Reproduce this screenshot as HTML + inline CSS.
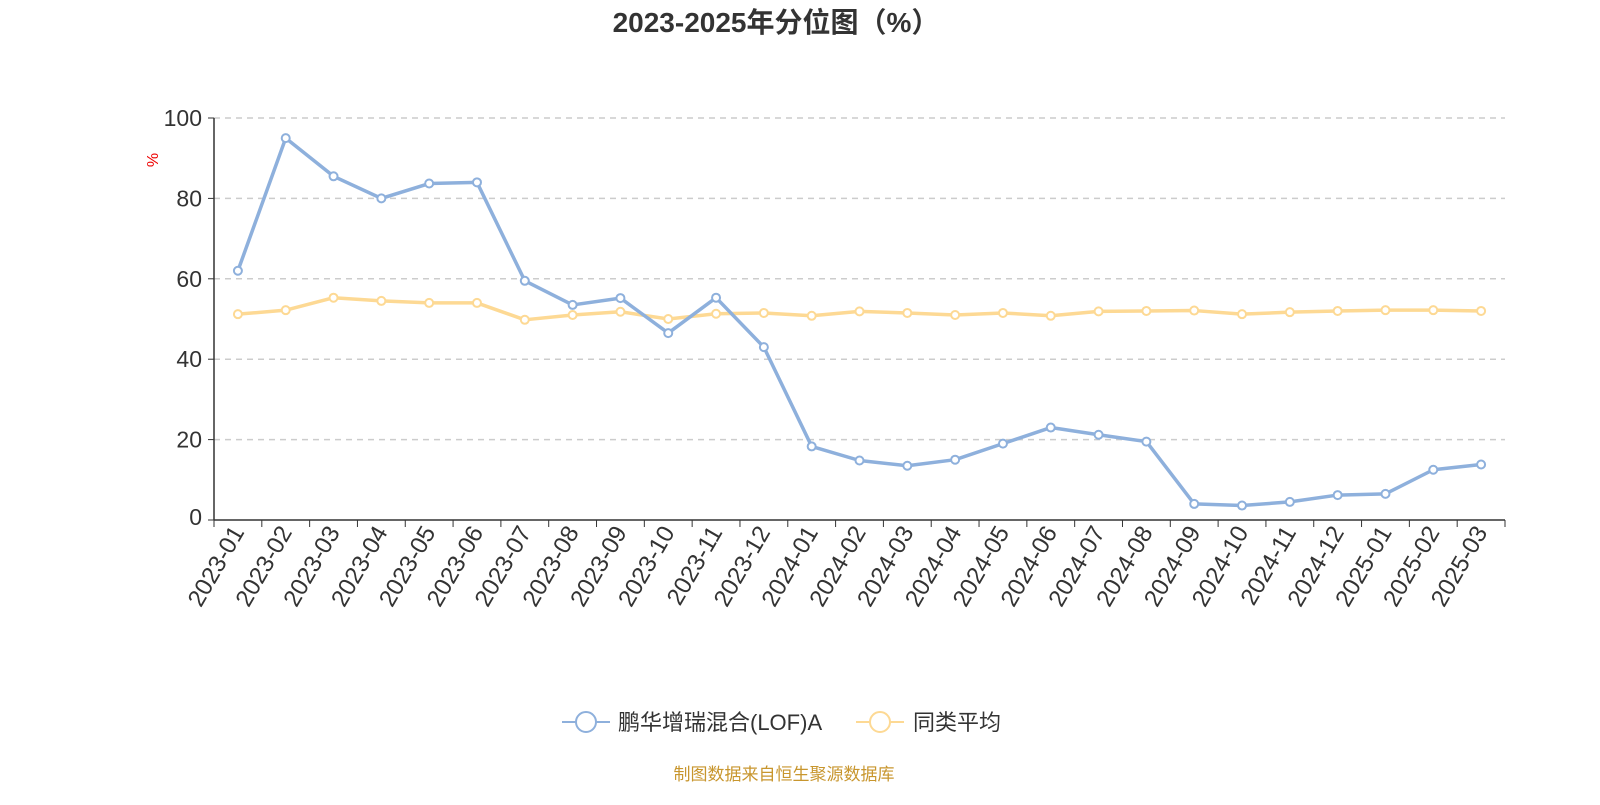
<!DOCTYPE html>
<html><head><meta charset="utf-8"><style>
body{margin:0;background:#fff;width:1600px;height:800px;overflow:hidden;font-family:"Liberation Sans","Noto Sans CJK SC",sans-serif}
</style></head><body>
<svg id="chart" width="1600" height="800" xmlns="http://www.w3.org/2000/svg" font-family="Liberation Sans, Noto Sans CJK SC, sans-serif">
<text x="776" y="32" text-anchor="middle" font-size="28" font-weight="bold" fill="#333">2023-2025年分位图（%）</text>
<text x="158" y="160" font-size="16" fill="#e00" transform="rotate(-90 158 160)" text-anchor="middle">%</text>
<g id="grid"></g><g id="axes"></g><g id="series"></g>
<g>
<line x1="562" y1="722" x2="610" y2="722" stroke="#8eb0dc" stroke-width="2"/>
<circle cx="586" cy="722" r="10" fill="#fff" stroke="#8eb0dc" stroke-width="2"/>
<text x="618" y="730" font-size="22" fill="#333">鹏华增瑞混合(LOF)A</text>
<line x1="856" y1="722" x2="904" y2="722" stroke="#fdd994" stroke-width="2"/>
<circle cx="880" cy="722" r="10" fill="#fff" stroke="#fdd994" stroke-width="2"/>
<text x="913" y="730" font-size="22" fill="#333">同类平均</text>
</g>
<text x="784" y="780" text-anchor="middle" font-size="17" fill="#c8962e">制图数据来自恒生聚源数据库</text>
</svg>
<script>
const categories=["2023-01","2023-02","2023-03","2023-04","2023-05","2023-06","2023-07","2023-08","2023-09","2023-10","2023-11","2023-12","2024-01","2024-02","2024-03","2024-04","2024-05","2024-06","2024-07","2024-08","2024-09","2024-10","2024-11","2024-12","2025-01","2025-02","2025-03"];
const fundValues=[62,95,85.5,80,83.7,84,59.5,53.5,55.2,46.5,55.3,43,18.3,14.8,13.5,15,19,23,21.2,19.5,4,3.6,4.5,6.2,6.5,12.5,13.8];
const avgValues=[51.2,52.2,55.3,54.5,54,54,49.8,51,51.8,50,51.3,51.5,50.8,51.9,51.5,51,51.5,50.8,51.9,52,52.1,51.2,51.7,52,52.2,52.2,52];
const yTicks=[0,20,40,60,80,100];
const NS="http://www.w3.org/2000/svg";
const X0=214,X1=1505,Y0=520,Y1=118;
const bw=(X1-X0)/categories.length;
const xs=i=>X0+bw*(i+0.5);
const ys=v=>Y0-(v/100)*(Y0-Y1);
function mk(tag,attrs,parent){const e=document.createElementNS(NS,tag);for(const k in attrs)e.setAttribute(k,attrs[k]);parent.appendChild(e);return e;}
const grid=document.getElementById('grid'),axes=document.getElementById('axes'),series=document.getElementById('series');
yTicks.forEach(t=>{
 if(t>0){const l=mk('line',{x1:X0,x2:X1,y1:ys(t),y2:ys(t),stroke:'#ccc','stroke-dasharray':'6,5','stroke-width':1.5},grid);
 
 }
 const tx=mk('text',{x:X0-12,y:ys(t)+8-(t==0?3:0),'text-anchor':'end','font-size':23,fill:'#333'},axes);tx.textContent=t;
 
 
 mk('line',{x1:X0-6,x2:X0,y1:ys(t),y2:ys(t),stroke:'#333'},axes);
});
const ya=mk('line',{x1:X0,x2:X0,y1:Y1,y2:Y0,stroke:'#333','stroke-width':1.5},axes);


const xa=mk('line',{x1:X0,x2:X1,y1:Y0,y2:Y0,stroke:'#333','stroke-width':1.5},axes);


for(let i=0;i<=categories.length;i++)mk('line',{x1:X0+bw*i,x2:X0+bw*i,y1:Y0,y2:Y0+7,stroke:'#333'},axes);
categories.forEach((c,i)=>{
 const x=xs(i)+7,y=Y0+12;
 const t=mk('text',{x:x,y:y,'text-anchor':'end','font-size':24,fill:'#333',transform:`rotate(-60 ${x} ${y})`},axes);t.textContent=c;
 
 
});
function drawSeries(vals,color,name){
 const p=mk('polyline',{points:vals.map((v,i)=>xs(i)+','+ys(v)).join(' '),fill:'none',stroke:color,'stroke-width':3.5,'stroke-linejoin':'round'},series);
 
 
 vals.forEach((v,i)=>{const c=mk('circle',{cx:xs(i),cy:ys(v),r:4,fill:'#fff',stroke:color,'stroke-width':2},series);
 
 });
}
drawSeries(avgValues,'#fdd994','average');
drawSeries(fundValues,'#8eb0dc','fund');
</script>
</body></html>
